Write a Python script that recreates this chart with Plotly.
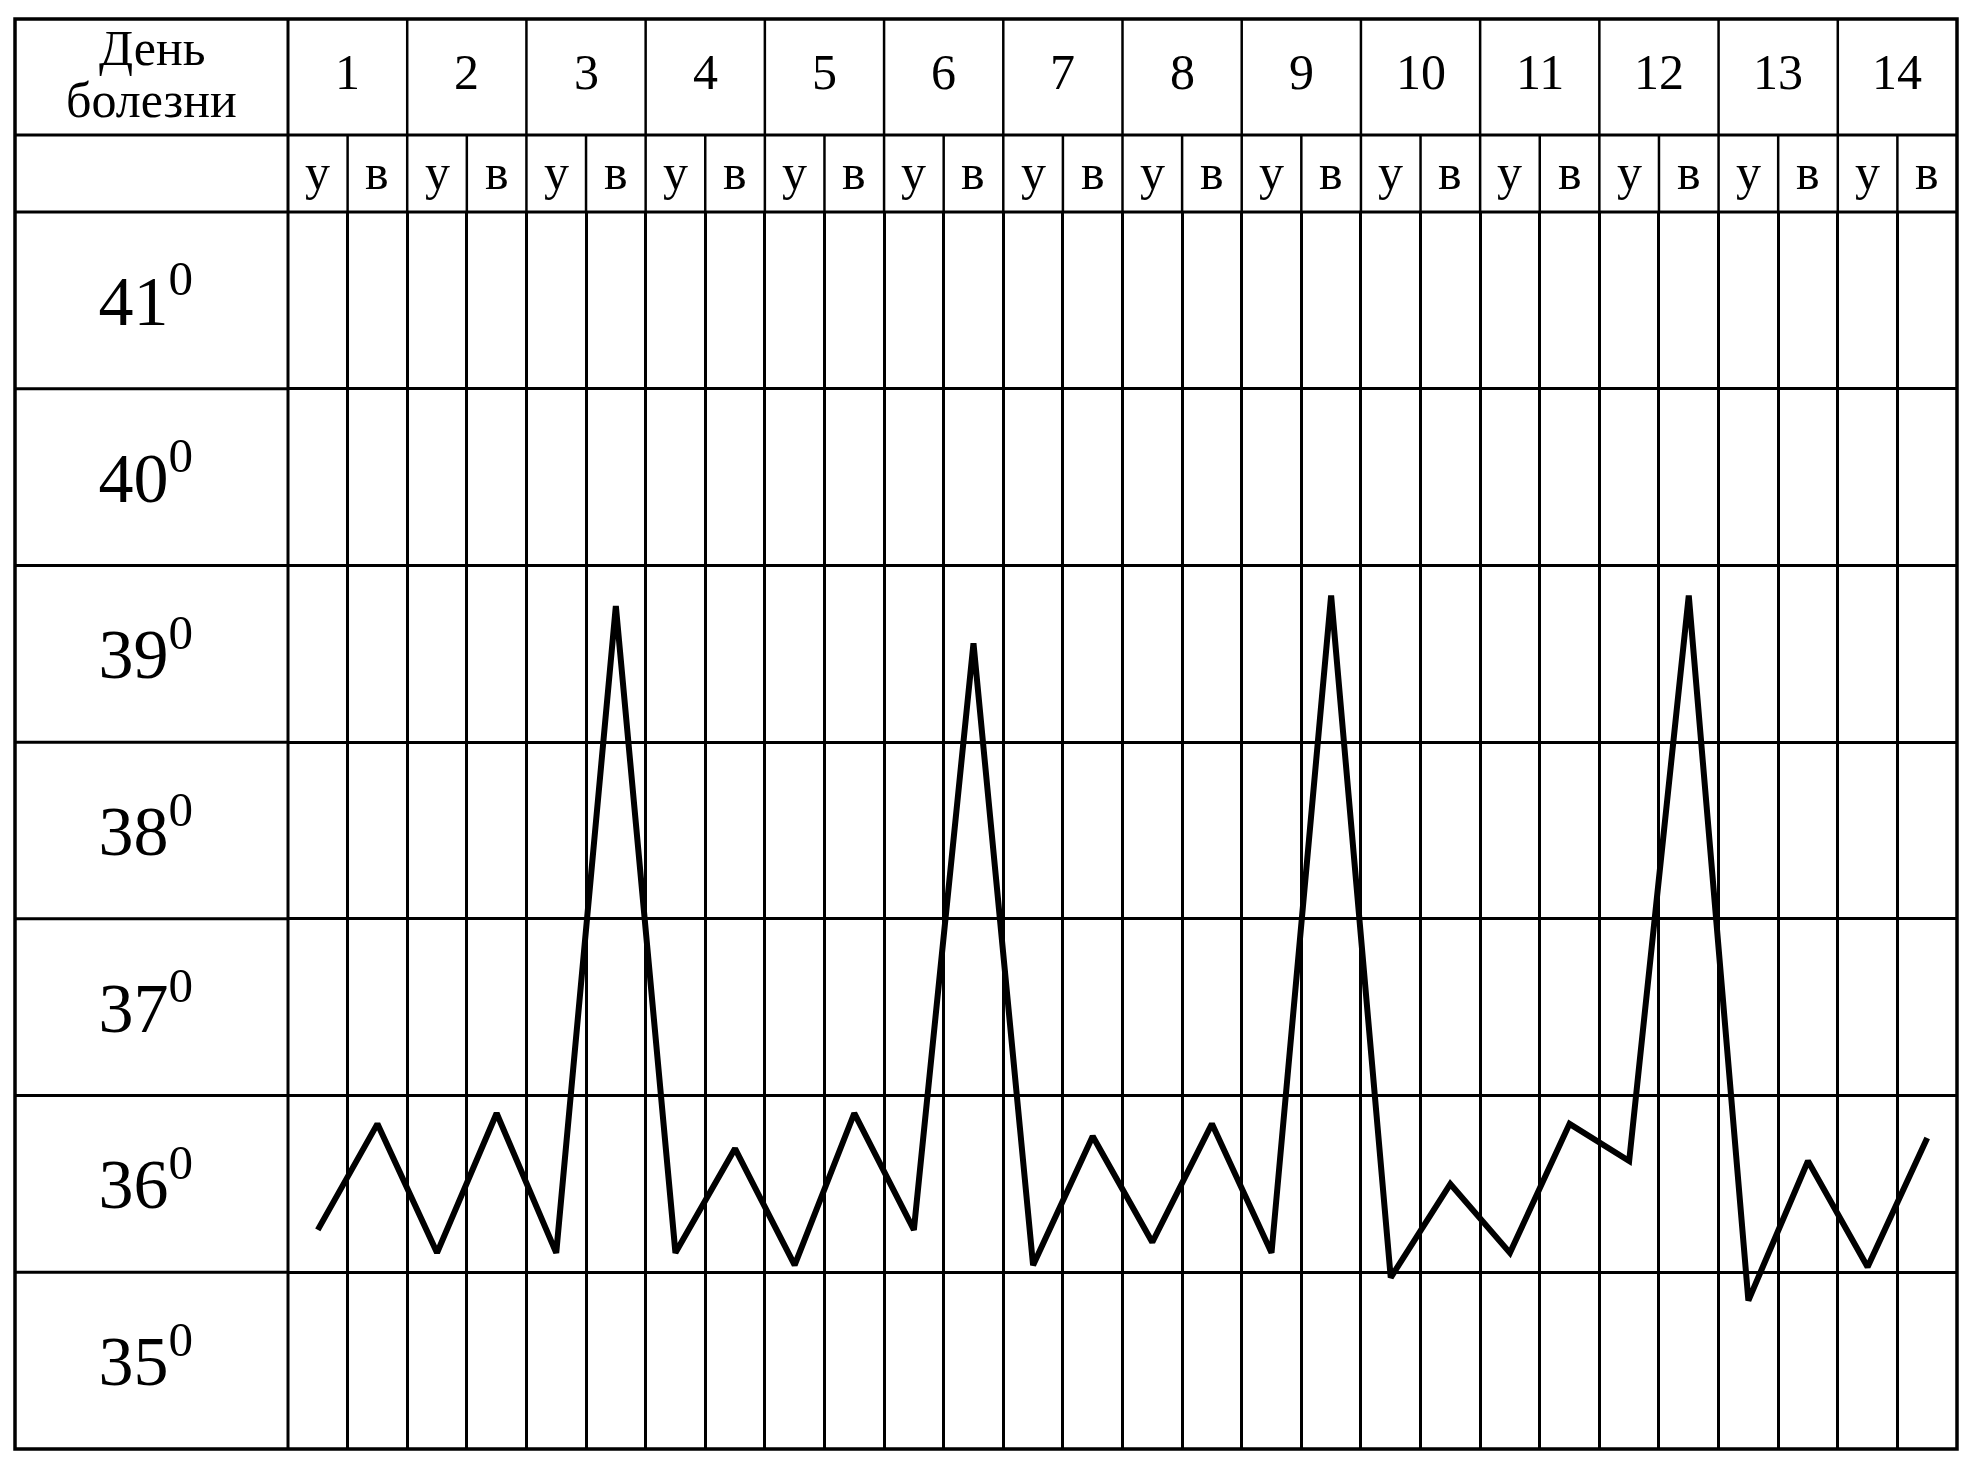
import plotly.graph_objects as go

# ---- data ----
days = list(range(1, 15))                 # День болезни
halves = ["у", "в"]                       # утро / вечер
temp_rows = [41, 40, 39, 38, 37, 36, 35]  # row labels
temps = [36.24, 36.84, 36.11, 36.90, 36.11, 39.77,
         36.11, 36.70, 36.04, 36.90, 36.24, 39.56,
         36.04, 36.77, 36.17, 36.84, 36.11, 39.83,
         35.97, 36.50, 36.11, 36.84, 36.63, 39.83,
         35.84, 36.63, 36.03, 36.76]
header_title = ["День", "болезни"]

FONT = "Liberation Serif"
W, H = 1980, 1467
ML, MR, MT, MB = 288, 23, 212, 18
plot_w = W - ML - MR
plot_h = H - MT - MB

n_cols = len(days) * len(halves)
x_vals = [i + 0.5 for i in range(n_cols)]
y_lo, y_hi = min(temp_rows), max(temp_rows) + 1

# header geometry in pixel offsets above the plot area
top_border_px = MT - 19
mid_header_px = MT - 135
left_border_px = ML - 15

def py(px_above):
    return 1 + px_above / plot_h

def px_(px_left):
    return -px_left / plot_w

y_top = py(top_border_px)
y_mid = py(mid_header_px)
x_left = px_(left_border_px)

fig = go.Figure()
fig.add_trace(go.Scatter(
    x=x_vals, y=temps, mode="lines",
    line=dict(color="black", width=6),
    hoverinfo="skip", showlegend=False,
))

shapes = []
line_h = dict(color="black", width=3)
line_v = dict(color="black", width=2.5)
# outer border
shapes.append(dict(type="rect", xref="paper", yref="paper", x0=x_left, x1=1,
                   y0=0, y1=y_top, line=dict(color="black", width=3.5)))
# horizontal header separators (full width)
shapes.append(dict(type="line", xref="paper", yref="paper", x0=x_left, x1=1,
                   y0=y_mid, y1=y_mid, line=line_h))
shapes.append(dict(type="line", xref="paper", yref="paper", x0=x_left, x1=1,
                   y0=1, y1=1, line=line_h))
# label column right border
shapes.append(dict(type="line", xref="paper", yref="paper", x0=0, x1=0,
                   y0=0, y1=y_top, line=line_h))
# row boundaries inside label column
for t in range(y_lo + 1, y_hi):
    yy = (t - y_lo) / (y_hi - y_lo)
    shapes.append(dict(type="line", xref="paper", yref="paper", x0=x_left, x1=0,
                       y0=yy, y1=yy, line=line_h))
# vertical lines in header
for k in range(1, n_cols):
    xx = k / n_cols
    y_start = y_top if k % 2 == 0 else y_mid
    shapes.append(dict(type="line", xref="paper", yref="paper", x0=xx, x1=xx,
                       y0=1, y1=y_start, line=line_v))

annotations = []
# title in label column
annotations.append(dict(text=header_title[0], xref="paper", yref="paper",
                        x=x_left / 2, y=py(MT - 48), showarrow=False,
                        font=dict(family=FONT, size=50, color="black"),
                        xanchor="center", yanchor="middle"))
annotations.append(dict(text=header_title[1], xref="paper", yref="paper",
                        x=x_left / 2, y=py(MT - 100), showarrow=False,
                        font=dict(family=FONT, size=50, color="black"),
                        xanchor="center", yanchor="middle"))
# day numbers
for i, d in enumerate(days):
    annotations.append(dict(text=str(d), xref="x", yref="paper",
                            x=2 * i + 1, y=py(MT - 72), showarrow=False,
                            font=dict(family=FONT, size=50, color="black"),
                            xanchor="center", yanchor="middle"))
    for j, h in enumerate(halves):
        annotations.append(dict(text=h, xref="x", yref="paper",
                                x=2 * i + j + 0.5, y=py(MT - 172), showarrow=False,
                                font=dict(family=FONT, size=50, color="black"),
                                xanchor="center", yanchor="middle"))

fig.update_layout(
    width=W, height=H,
    margin=dict(l=ML, r=MR, t=MT, b=MB, pad=0),
    paper_bgcolor="white", plot_bgcolor="white",
    shapes=shapes, annotations=annotations,
    showlegend=False,
    xaxis=dict(range=[0, n_cols], tickvals=list(range(n_cols + 1)),
               showticklabels=False, ticks="", showgrid=True,
               gridcolor="black", gridwidth=2.5, zeroline=False,
               showline=False, fixedrange=True),
    yaxis=dict(range=[y_lo, y_hi],
               tickvals=[t + 0.5 for t in temp_rows],
               ticktext=[f"{t}<sup>0</sup>" for t in temp_rows],
               tickfont=dict(family=FONT, size=70, color="black"),
               ticks="", ticklabelstandoff=94, showgrid=False,
               zeroline=False, showline=False, fixedrange=True,
               minor=dict(tick0=y_lo, dtick=1, showgrid=True,
                          gridcolor="black", gridwidth=3, ticks="")),
)

fig.write_html("out.html", config={"displayModeBar": False},
               post_script="document.body.style.margin='0';document.body.style.overflow='hidden';")
